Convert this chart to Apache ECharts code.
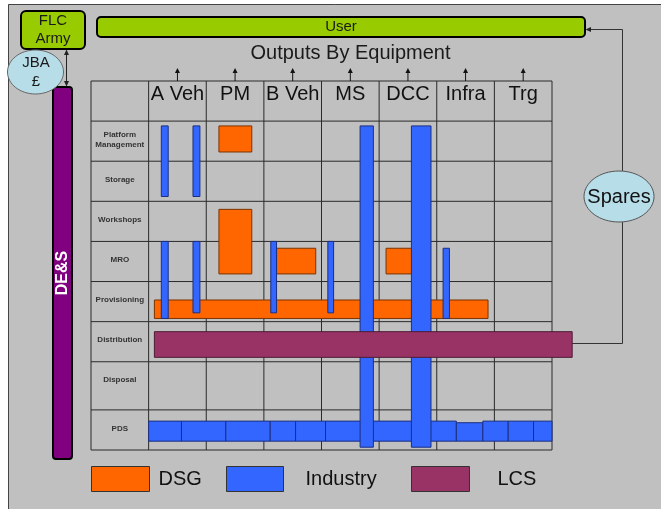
<!DOCTYPE html>
<html><head><meta charset="utf-8">
<script src="https://cdn.jsdelivr.net/npm/echarts@6/dist/echarts.min.js"></script>
<style>html,body{margin:0;padding:0;background:#fff}#c{width:661px;height:509px}</style>
</head><body><div id="c"></div>
<script>
// ---- data (table units: x = equipment column index, y = row index) ----
const categories = ['A Veh','PM','B Veh','MS','DCC','Infra','Trg'];
const rows = ['Platform\nManagement','Storage','Workshops','MRO','Provisioning','Distribution','Disposal','PDS'];
const rowEdges = [0,1,2,3,4,5,6,7.2,8.2];
// [x0, x1, y0, y1]
const dsgBars = [
  [1.22,1.79,0.12,0.77],
  [1.22,1.79,2.20,3.81],
  [2.22,2.90,3.17,3.81],
  [4.12,4.70,3.17,3.81],
  [0.10,5.89,4.46,4.92]
];
const industryBars = [
  [0.22,0.34,0.12,1.88],
  [0.77,0.89,0.12,1.88],
  [0.22,0.34,3.00,4.92],
  [0.77,0.89,3.00,4.78],
  [2.12,2.22,3.00,4.78],
  [3.11,3.21,3.00,4.78],
  [5.11,5.22,3.17,4.92]
];
const industryPds = [
  [0.00,0.57,7.48,7.98],[0.57,1.34,7.48,7.98],[1.34,2.11,7.48,7.98],
  [2.11,2.55,7.48,7.98],[2.55,3.07,7.48,7.98],[3.07,3.70,7.48,7.98],
  [3.88,4.58,7.48,7.98],[4.88,5.34,7.48,7.98],[5.34,5.80,7.52,7.98],
  [5.80,6.24,7.48,7.98],[6.24,6.68,7.48,7.98],[6.68,7.00,7.48,7.98]
];
const industryFull = [
  [3.67,3.90,0.12,8.13],
  [4.56,4.90,0.12,8.13]
];
const lcsBars = [
  [0.10,7.35,5.25,5.89]
];

// ---- drawing ----
const F = "'Liberation Sans', Arial, sans-serif";
const chart = echarts.init(document.getElementById('c'));
const nCol = categories.length;
const yMax = rowEdges[rowEdges.length-1];

function rectSeries(name, data, color, border){
  return {
    type:'custom', name, data, coordinateSystem:'cartesian2d',
    encode:{x:[0,1], y:[2,3]}, silent:true, animation:false,
    itemStyle:{color, borderColor:border, borderWidth:1},
    renderItem(params, api){
      const a = api.coord([api.value(0), api.value(2)]);
      const b = api.coord([api.value(1), api.value(3)]);
      return {type:'rect', shape:{x:a[0], y:a[1], width:b[0]-a[0], height:b[1]-a[1]},
              style:{fill:color, stroke:border, lineWidth:1}};
    }
  };
}

const gridSegs = [];
for (let c=-1;c<=nCol;c++) gridSegs.push([c,-1,c,yMax]);
[-1].concat(rowEdges).forEach(r=>gridSegs.push([-1,r,nCol,r]));

const option = {
  backgroundColor:'#c0c0c0',
  animation:false,
  grid:{left:91, top:81, width:461, height:369},
  xAxis:{type:'value', min:-1, max:nCol, show:false},
  yAxis:{type:'value', min:-1, max:yMax, inverse:true, show:false},
  legend:[
    {data:['DSG'], left:91, top:466, padding:0, itemWidth:58, itemHeight:25, icon:'rect', selectedMode:false,
     itemStyle:{borderColor:'#333', borderWidth:1},
     textStyle:{fontSize:20, fontFamily:F, color:'#111', padding:[0,0,6,4]}},
    {data:['Industry'], left:226, top:466, padding:0, itemWidth:57, itemHeight:25, icon:'rect', selectedMode:false,
     itemStyle:{borderColor:'#333', borderWidth:1},
     textStyle:{fontSize:20, fontFamily:F, color:'#111', padding:[8,0,0,17]}},
    {data:['LCS'], left:411, top:466, padding:0, itemWidth:58, itemHeight:25, icon:'rect', selectedMode:false,
     itemStyle:{borderColor:'#333', borderWidth:1},
     textStyle:{fontSize:20, fontFamily:F, color:'#111', padding:[7,0,0,23]}}
  ],
  series:[
    {type:'custom', name:'grid', data:gridSegs, encode:{x:[0,2], y:[1,3]}, silent:true,
     renderItem(params, api){
       const a = api.coord([api.value(0), api.value(1)]);
       const b = api.coord([api.value(2), api.value(3)]);
       return {type:'line', shape:{x1:a[0],y1:a[1],x2:b[0],y2:b[1]}, style:{stroke:'#2a2a2a', lineWidth:1}};
     }},
    {type:'custom', name:'headers', data:categories.map((c,i)=>[i+0.5,-0.66]), encode:{x:0,y:1}, silent:true,
     renderItem(params, api){
       const p = api.coord([api.value(0), api.value(1)]);
       return {type:'text', x:p[0], y:p[1], style:{text:categories[params.dataIndex], font:`20px ${F}`, fill:'#111', align:'center', verticalAlign:'middle'}};
     }},
    {type:'custom', name:'arrows', data:categories.map((c,i)=>[i+0.5,-1]), encode:{x:0,y:1}, silent:true,
     renderItem(params, api){
       const p = api.coord([api.value(0), api.value(1)]);
       return {type:'group', children:[
         {type:'line', shape:{x1:p[0],y1:p[1],x2:p[0],y2:p[1]-9}, style:{stroke:'#111', lineWidth:1}},
         {type:'polygon', shape:{points:[[p[0],p[1]-13],[p[0]-2.5,p[1]-8],[p[0]+2.5,p[1]-8]]}, style:{fill:'#111'}}
       ]};
     }},
    {type:'custom', name:'rowLabels', data:rows.map((r,i)=>[-0.5, rowEdges[i]+0.46]), encode:{x:0,y:1}, silent:true,
     renderItem(params, api){
       const p = api.coord([api.value(0), api.value(1)]);
       return {type:'text', x:p[0], y:p[1], style:{text:rows[params.dataIndex], font:`bold 8px ${F}`, fill:'#333', align:'center', verticalAlign:'middle', lineHeight:10}};
     }},
    rectSeries('DSG', dsgBars, '#ff6600', '#7a3300'),
    rectSeries('Industry', industryBars.concat(industryPds, industryFull), '#3366ff', '#1a2f80'),
    rectSeries('LCS', lcsBars, '#993366', '#4d1a33')
  ],
  graphic:[
    {type:'rect', shape:{x:0,y:0,width:661,height:4}, style:{fill:'#fff'}},
    {type:'rect', shape:{x:0,y:0,width:8,height:509}, style:{fill:'#fff'}},
    {type:'polyline', shape:{points:[[8.5,509],[8.5,4.5],[661,4.5]]}, style:{stroke:'#444', lineWidth:1, fill:null}},
    {type:'rect', shape:{x:21,y:11,width:64,height:38,r:5}, style:{fill:'#99cc00', stroke:'#000', lineWidth:2}},
    {type:'text', x:53, y:30, style:{text:'FLC\nArmy', font:`15px ${F}`, fill:'#1a1a1a', align:'center', verticalAlign:'middle', lineHeight:18}},
    {type:'rect', shape:{x:97,y:17,width:488,height:20,r:4}, style:{fill:'#99cc00', stroke:'#000', lineWidth:2}},
    {type:'text', x:341, y:27, style:{text:'User', font:`15px ${F}`, fill:'#1a1a1a', align:'center', verticalAlign:'middle'}},
    {type:'text', x:350.5, y:53, style:{text:'Outputs By Equipment', font:`20px ${F}`, fill:'#1a1a1a', align:'center', verticalAlign:'middle'}},
    {type:'rect', shape:{x:53,y:87,width:19,height:372,r:3}, style:{fill:'#800080', stroke:'#000', lineWidth:2}},
    {type:'text', x:63, y:273, rotation:Math.PI/2, style:{text:'DE&S', font:`bold 16px ${F}`, fill:'#fff', align:'center', verticalAlign:'middle'}},
    {type:'ellipse', shape:{cx:35.5, cy:72, rx:28, ry:22}, style:{fill:'#b7dde8', stroke:'#666', lineWidth:1}},
    {type:'text', x:36, y:72, style:{text:'JBA\n£', font:`15px ${F}`, fill:'#1a1a1a', align:'center', verticalAlign:'middle', lineHeight:19}},
    {type:'line', shape:{x1:66.5,y1:53,x2:66.5,y2:83}, style:{stroke:'#222', lineWidth:1}},
    {type:'polygon', shape:{points:[[66.5,49.5],[64,55],[69,55]]}, style:{fill:'#222'}},
    {type:'polygon', shape:{points:[[66.5,86.5],[64,81],[69,81]]}, style:{fill:'#222'}},
    {type:'polyline', shape:{points:[[590,29.5],[622.5,29.5],[622.5,171]]}, style:{stroke:'#333', lineWidth:1, fill:null}},
    {type:'polygon', shape:{points:[[585.5,29.5],[591,27],[591,32]]}, style:{fill:'#222'}},
    {type:'polyline', shape:{points:[[571.7,343.5],[622.5,343.5],[622.5,222]]}, style:{stroke:'#333', lineWidth:1, fill:null}},
    {type:'ellipse', shape:{cx:619, cy:196.5, rx:35, ry:25.5}, style:{fill:'#b7dde8', stroke:'#555', lineWidth:1}},
    {type:'text', x:619, y:197, style:{text:'Spares', font:`20px ${F}`, fill:'#111', align:'center', verticalAlign:'middle'}}
  ]
};
chart.setOption(option);
</script></body></html>
